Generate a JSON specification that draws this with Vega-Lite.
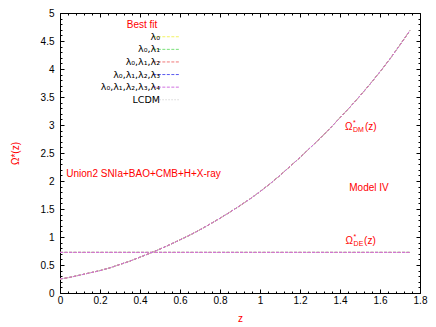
{
  "$schema": "https://vega.github.io/schema/vega-lite/v6.json",
  "width": 360,
  "height": 280,
  "autosize": "none",
  "padding": {"left": 60, "top": 13, "right": 16, "bottom": 34},
  "background": "white",
  "config": {
    "font": "Liberation Sans",
    "view": {"stroke": "black", "strokeWidth": 1},
    "axis": {"grid": false, "domain": false, "tickColor": "black", "labelColor": "black", "labelFontSize": 10, "labelFont": "Liberation Sans", "labelOverlap": false, "labelFlush": false, "tickWidth": 1}
  },
  "data": {"values": [
    {"z": 0, "dm": 0.25, "de": 0.725},
    {"z": 0.05, "dm": 0.28, "de": 0.725},
    {"z": 0.1, "dm": 0.32, "de": 0.725},
    {"z": 0.15, "dm": 0.36, "de": 0.725},
    {"z": 0.2, "dm": 0.40, "de": 0.725},
    {"z": 0.25, "dm": 0.45, "de": 0.725},
    {"z": 0.3, "dm": 0.51, "de": 0.725},
    {"z": 0.35, "dm": 0.57, "de": 0.725},
    {"z": 0.4, "dm": 0.64, "de": 0.725},
    {"z": 0.45, "dm": 0.71, "de": 0.725},
    {"z": 0.5, "dm": 0.785, "de": 0.725},
    {"z": 0.55, "dm": 0.865, "de": 0.725},
    {"z": 0.6, "dm": 0.95, "de": 0.725},
    {"z": 0.65, "dm": 1.035, "de": 0.725},
    {"z": 0.7, "dm": 1.13, "de": 0.725},
    {"z": 0.75, "dm": 1.23, "de": 0.725},
    {"z": 0.8, "dm": 1.335, "de": 0.725},
    {"z": 0.85, "dm": 1.445, "de": 0.725},
    {"z": 0.9, "dm": 1.56, "de": 0.725},
    {"z": 0.95, "dm": 1.68, "de": 0.725},
    {"z": 1.0, "dm": 1.81, "de": 0.725},
    {"z": 1.05, "dm": 1.95, "de": 0.725},
    {"z": 1.1, "dm": 2.10, "de": 0.725},
    {"z": 1.15, "dm": 2.26, "de": 0.725},
    {"z": 1.2, "dm": 2.42, "de": 0.725},
    {"z": 1.25, "dm": 2.59, "de": 0.725},
    {"z": 1.3, "dm": 2.76, "de": 0.725},
    {"z": 1.35, "dm": 2.94, "de": 0.725},
    {"z": 1.4, "dm": 3.13, "de": 0.725},
    {"z": 1.45, "dm": 3.32, "de": 0.725},
    {"z": 1.5, "dm": 3.52, "de": 0.725},
    {"z": 1.55, "dm": 3.73, "de": 0.725},
    {"z": 1.6, "dm": 3.95, "de": 0.725},
    {"z": 1.65, "dm": 4.18, "de": 0.725},
    {"z": 1.7, "dm": 4.43, "de": 0.725},
    {"z": 1.75, "dm": 4.69, "de": 0.725}
  ]},
  "transform": [{"fold": ["dm", "de"], "as": ["curve", "omega"]}],
  "resolve": {"axis": {"x": "independent", "y": "independent"}},
  "layer": [
    {
      "mark": {"type": "line", "strokeWidth": 1},
      "encoding": {
        "x": {"field": "z", "type": "quantitative", "scale": {"domain": [0, 1.8], "nice": false, "zero": false},
          "axis": {"orient": "bottom", "values": [0,0.04,0.08,0.12,0.16,0.24,0.28,0.32,0.36,0.44,0.48,0.52,0.56,0.64,0.68,0.72,0.76,0.84,0.88,0.92,0.96,1.04,1.08,1.12,1.16,1.24,1.28,1.32,1.36,1.44,1.48,1.52,1.56,1.64,1.68,1.72,1.76], "labels": false, "tickSize": -2, "title": null}},
        "y": {"field": "omega", "type": "quantitative", "scale": {"domain": [0, 5], "nice": false},
          "axis": {"orient": "left", "values": [0.1,0.2,0.3,0.4,0.6,0.7,0.8,0.9,1.1,1.2,1.3,1.4,1.6,1.7,1.8,1.9,2.1,2.2,2.3,2.4,2.6,2.7,2.8,2.9,3.1,3.2,3.3,3.4,3.6,3.7,3.8,3.9,4.1,4.2,4.3,4.4,4.6,4.7,4.8,4.9], "labels": false, "tickSize": -2, "title": null}},
        "detail": {"field": "curve"},
        "color": {"datum": "λ₀,λ₁,λ₂,λ₃",
          "scale": {"domain": ["λ₀", "λ₀,λ₁", "λ₀,λ₁,λ₂", "λ₀,λ₁,λ₂,λ₃", "λ₀,λ₁,λ₂,λ₃,λ₄", "LCDM"],
                    "range": ["#f2f260", "#78e078", "#f07878", "#5a5af0", "#d070e0", "#d8d8d8"]},
          "legend": {"orient": "none", "legendX": 91, "legendY": 19, "title": null, "padding": 0,
            "symbolType": "M-6,0H6", "symbolSize": 20, "symbolStrokeWidth": 1, "symbolOffset": 11,
            "labelAlign": "right", "labelOffset": -11.5, "labelFontSize": 9.5, "labelFont": "DejaVu Sans",
            "labelColor": "black", "labelLimit": 0, "rowPadding": 1.6}},
        "strokeDash": {"datum": "λ₀,λ₁,λ₂,λ₃",
          "scale": {"domain": ["λ₀", "λ₀,λ₁", "λ₀,λ₁,λ₂", "λ₀,λ₁,λ₂,λ₃", "λ₀,λ₁,λ₂,λ₃,λ₄", "LCDM"],
                    "range": [[3, 1.5], [3, 1.5], [3, 1.5], [3, 1.5], [3, 1.5], [1.5, 1.5]]},
          "legend": {"orient": "none", "legendX": 91, "legendY": 19, "title": null, "padding": 0,
            "symbolType": "M-6,0H6", "symbolSize": 20, "symbolStrokeWidth": 1, "symbolOffset": 11,
            "labelAlign": "right", "labelOffset": -11.5, "labelFontSize": 9.5, "labelFont": "DejaVu Sans",
            "labelColor": "black", "labelLimit": 0, "rowPadding": 1.6}}
      }
    },
    {
      "mark": {"type": "line", "strokeWidth": 1},
      "encoding": {
        "x": {"field": "z", "type": "quantitative",
          "axis": {"orient": "bottom", "values": [0,0.2,0.4,0.6,0.8,1,1.2,1.4,1.6,1.8], "format": "~g", "tickSize": -4, "labelPadding": 6,
            "title": "z", "titleColor": "red", "titleFontWeight": "normal", "titleFontSize": 10, "titleFont": "Liberation Sans",
            "titleX": 180, "titleY": 25, "titleBaseline": "middle", "titleAlign": "center"}},
        "y": {"field": "omega", "type": "quantitative",
          "axis": {"orient": "left", "values": [0,0.5,1,1.5,2,2.5,3,3.5,4,4.5,5], "format": "~g", "tickSize": -4, "labelPadding": 10,
            "title": "Ω*(z)", "titleColor": "red", "titleFontWeight": "normal", "titleFontSize": 10, "titleFont": "Liberation Sans",
            "titleX": -45, "titleY": 140, "titleBaseline": "middle", "titleAlign": "center", "titleAngle": 270}},
        "detail": {"field": "curve"},
        "color": {"datum": "LCDM"},
        "strokeDash": {"datum": "LCDM"}
      }
    },
    {
      "mark": {"type": "line", "strokeWidth": 1},
      "encoding": {
        "x": {"field": "z", "type": "quantitative",
          "axis": {"orient": "top", "values": [0,0.04,0.08,0.12,0.16,0.24,0.28,0.32,0.36,0.44,0.48,0.52,0.56,0.64,0.68,0.72,0.76,0.84,0.88,0.92,0.96,1.04,1.08,1.12,1.16,1.24,1.28,1.32,1.36,1.44,1.48,1.52,1.56,1.64,1.68,1.72,1.76], "labels": false, "tickSize": -2, "title": null}},
        "y": {"field": "omega", "type": "quantitative",
          "axis": {"orient": "right", "values": [0.1,0.2,0.3,0.4,0.6,0.7,0.8,0.9,1.1,1.2,1.3,1.4,1.6,1.7,1.8,1.9,2.1,2.2,2.3,2.4,2.6,2.7,2.8,2.9,3.1,3.2,3.3,3.4,3.6,3.7,3.8,3.9,4.1,4.2,4.3,4.4,4.6,4.7,4.8,4.9], "labels": false, "tickSize": -2, "title": null}},
        "detail": {"field": "curve"},
        "color": {"datum": "λ₀"},
        "strokeDash": {"datum": "λ₀"}
      }
    },
    {
      "mark": {"type": "line", "strokeWidth": 1},
      "encoding": {
        "x": {"field": "z", "type": "quantitative",
          "axis": {"orient": "top", "values": [0,0.2,0.4,0.6,0.8,1,1.2,1.4,1.6,1.8], "labels": false, "tickSize": -4, "title": null}},
        "y": {"field": "omega", "type": "quantitative",
          "axis": {"orient": "right", "values": [0,0.5,1,1.5,2,2.5,3,3.5,4,4.5,5], "labels": false, "tickSize": -4, "title": null}},
        "detail": {"field": "curve"},
        "color": {"datum": "λ₀,λ₁"},
        "strokeDash": {"datum": "λ₀,λ₁"}
      }
    },
    {
      "mark": {"type": "line", "strokeWidth": 1},
      "encoding": {
        "x": {"field": "z", "type": "quantitative", "axis": null},
        "y": {"field": "omega", "type": "quantitative", "axis": null},
        "detail": {"field": "curve"},
        "color": {"datum": "λ₀,λ₁,λ₂"},
        "strokeDash": {"datum": "λ₀,λ₁,λ₂"}
      }
    },
    {
      "mark": {"type": "line", "strokeWidth": 1},
      "encoding": {
        "x": {"field": "z", "type": "quantitative", "axis": null},
        "y": {"field": "omega", "type": "quantitative", "axis": null},
        "detail": {"field": "curve"},
        "color": {"datum": "λ₀,λ₁,λ₂,λ₃,λ₄"},
        "strokeDash": {"datum": "λ₀,λ₁,λ₂,λ₃,λ₄"}
      }
    },
    {
      "data": {"values": [{}]},
      "mark": {"type": "text", "text": "Best fit", "color": "red", "fontSize": 10, "font": "Liberation Sans", "align": "center", "baseline": "middle"},
      "encoding": {"x": {"datum": 0.41, "axis": null}, "y": {"datum": 4.79, "axis": null}}
    },
    {
      "data": {"values": [{}]},
      "mark": {"type": "text", "text": "Union2 SNIa+BAO+CMB+H+X-ray", "color": "red", "fontSize": 10, "font": "Liberation Sans", "align": "center", "baseline": "middle"},
      "encoding": {"x": {"datum": 0.4175, "axis": null}, "y": {"datum": 2.13, "axis": null}}
    },
    {
      "data": {"values": [{}]},
      "mark": {"type": "text", "text": "Model IV", "color": "red", "fontSize": 10, "font": "Liberation Sans", "align": "center", "baseline": "middle"},
      "encoding": {"x": {"datum": 1.545, "axis": null}, "y": {"datum": 1.88, "axis": null}}
    },
    {
      "data": {"values": [{}]},
      "mark": {"type": "text", "text": "Ω", "color": "red", "fontSize": 10, "font": "Liberation Sans", "align": "left", "baseline": "middle"},
      "encoding": {"x": {"datum": 1.425, "axis": null}, "y": {"datum": 2.96, "axis": null}}
    },
    {
      "data": {"values": [{}]},
      "mark": {"type": "text", "text": "*", "color": "red", "fontSize": 7, "font": "Liberation Sans", "align": "left", "baseline": "middle", "dx": 8, "dy": -4},
      "encoding": {"x": {"datum": 1.425, "axis": null}, "y": {"datum": 2.96, "axis": null}}
    },
    {
      "data": {"values": [{}]},
      "mark": {"type": "text", "text": "DM", "color": "red", "fontSize": 7, "font": "Liberation Sans", "align": "left", "baseline": "middle", "dx": 8, "dy": 3},
      "encoding": {"x": {"datum": 1.425, "axis": null}, "y": {"datum": 2.96, "axis": null}}
    },
    {
      "data": {"values": [{}]},
      "mark": {"type": "text", "text": "(z)", "color": "red", "fontSize": 10, "font": "Liberation Sans", "align": "left", "baseline": "middle", "dx": 20},
      "encoding": {"x": {"datum": 1.425, "axis": null}, "y": {"datum": 2.96, "axis": null}}
    },
    {
      "data": {"values": [{}]},
      "mark": {"type": "text", "text": "Ω", "color": "red", "fontSize": 10, "font": "Liberation Sans", "align": "left", "baseline": "middle"},
      "encoding": {"x": {"datum": 1.428, "axis": null}, "y": {"datum": 0.92, "axis": null}}
    },
    {
      "data": {"values": [{}]},
      "mark": {"type": "text", "text": "*", "color": "red", "fontSize": 7, "font": "Liberation Sans", "align": "left", "baseline": "middle", "dx": 8, "dy": -4},
      "encoding": {"x": {"datum": 1.428, "axis": null}, "y": {"datum": 0.92, "axis": null}}
    },
    {
      "data": {"values": [{}]},
      "mark": {"type": "text", "text": "DE", "color": "red", "fontSize": 7, "font": "Liberation Sans", "align": "left", "baseline": "middle", "dx": 8, "dy": 3},
      "encoding": {"x": {"datum": 1.428, "axis": null}, "y": {"datum": 0.92, "axis": null}}
    },
    {
      "data": {"values": [{}]},
      "mark": {"type": "text", "text": "(z)", "color": "red", "fontSize": 10, "font": "Liberation Sans", "align": "left", "baseline": "middle", "dx": 18.5},
      "encoding": {"x": {"datum": 1.428, "axis": null}, "y": {"datum": 0.92, "axis": null}}
    }
  ]
}
